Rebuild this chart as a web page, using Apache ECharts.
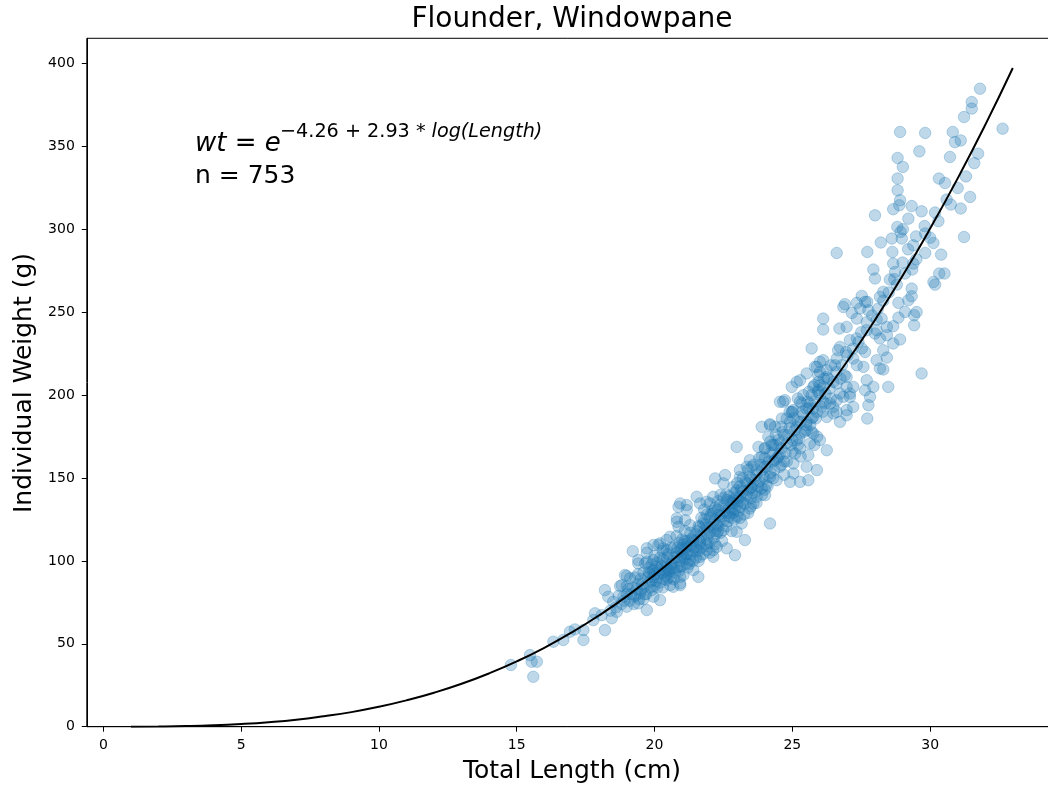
<!DOCTYPE html>
<html>
<head>
<meta charset="utf-8">
<title>Flounder, Windowpane</title>
<script src="https://cdn.jsdelivr.net/npm/echarts@6/dist/echarts.min.js"></script>
<style>
html, body { margin: 0; padding: 0; background: #fff; }
#chart { width: 1048px; height: 790px; }
</style>
</head>
<body>
<div id="chart"></div>
<script>
// fitted curve at whole centimetres
const curveLength = [1, 2, 3, 4, 5, 6, 7, 8, 9, 10, 11, 12, 13, 14, 15, 16, 17, 18, 19, 20, 21, 22, 23, 24, 25, 26, 27, 28, 29, 30, 31, 32, 33];
const curveWeight = [0.01, 0.11, 0.35, 0.82, 1.6, 2.7, 4.2, 6.3, 8.8, 12.0, 15.9, 20.5, 25.9, 32.2, 39.4, 47.6, 56.9, 67.3, 78.8, 91.6, 105.6, 121.1, 137.9, 156.2, 176.0, 197.5, 220.6, 245.4, 272.0, 300.5, 330.8, 363.1, 397.4];

// observed fish [length cm, weight g]
const smallFish = [
  [14.79, 37.2], [15.48, 43.2], [15.54, 39.2], [15.73, 39.2], [15.60, 30.1], [16.33, 51.3], [16.69, 52.3],
  [16.93, 57.3], [17.11, 58.7], [17.42, 58.3], [17.42, 52.3], [17.78, 64.3], [17.84, 68.4], [18.08, 67.3],
  [18.20, 58.3], [18.45, 65.4], [18.63, 69.3], [18.50, 75.4], [18.32, 78.4], [18.20, 82.4], [18.75, 84.8],
  [18.81, 85.4], [18.87, 78.4], [18.99, 72.4], [18.99, 84.8], [18.99, 90.9], [18.93, 91.5], [18.6, 72],
  [18.4, 70], [18.9, 76], [18.7, 79], [18.8, 74]
];
const midFish = [
  [19.21, 105.9], [19.72, 104.9], [19.41, 98.5], [19.72, 99.5], [19.11, 89.5], [19.72, 70.4], [19.23, 78.4],
  [19.41, 74.4], [19.47, 80.4], [19.96, 78.4], [20.20, 76.4], [19.90, 82.4], [20.68, 84.4], [20.93, 90.4],
  [20.44, 88.5], [20.20, 94.5], [19.96, 90.4], [20.44, 96.5], [20.93, 96.5], [21.17, 98.5], [21.41, 94.5],
  [21.59, 90.4], [20.93, 85.4], [20.93, 86.5], [20.56, 85.4], [21.05, 91.5], [20.08, 96.5], [19.84, 92.5],
  [20.62, 95.5], [20.50, 92.5], [19.96, 100.5], [19.41, 100.5], [19.66, 98.5], [21.29, 100.5], [20.81, 102.5],
  [21.05, 102.5], [20.93, 106.5], [21.65, 102.5], [22.13, 102.5], [22.92, 103.5], [22.13, 106.5], [21.89, 110.6],
  [21.53, 106.5], [21.17, 108.5], [20.44, 106.5], [20.20, 110.6], [19.96, 109.6], [19.72, 107.6], [20.14, 109.6],
  [20.32, 107.6], [20.44, 112.6], [20.56, 114.6], [21.89, 106.5], [22.26, 108.5], [22.62, 107.6], [21.65, 110.6],
  [21.17, 110.6], [21.41, 114.6], [20.81, 123.6], [20.87, 120.6], [21.29, 121.6], [21.65, 120.6], [20.81, 125.7],
  [21.11, 124.6], [21.77, 122.6], [22.01, 120.6], [22.26, 116.6], [22.50, 118.6], [22.38, 124.6], [22.13, 128.7],
  [22.98, 117.6], [23.28, 112.6], [23.16, 122.6], [22.74, 128.7], [23.10, 132.6], [22.86, 136.7], [20.87, 132.6],
  [21.17, 130.7], [21.17, 133.7], [20.93, 134.7], [21.65, 134.7], [21.89, 135.7], [21.53, 138.7], [22.01, 134.7],
  [22.13, 138.7], [22.38, 133.7], [22.62, 136.7], [22.86, 134.7], [23.04, 137.7], [22.98, 142.7], [22.86, 144.7],
  [22.50, 146.8], [22.20, 149.8], [22.56, 151.8], [23.10, 150.7], [23.10, 154.8], [23.35, 156.8], [23.35, 146.8],
  [23.53, 144.7], [23.28, 134.7], [23.46, 131.7], [23.59, 134.7], [23.71, 138.7], [24.01, 139.7], [23.89, 143.7],
  [24.19, 122.6], [22.98, 168.8],
  [19.0, 80], [19.1, 76], [19.2, 84], [19.3, 79], [19.4, 86], [19.5, 82], [19.5, 89], [19.6, 84], [19.7, 80],
  [19.8, 87], [19.8, 93], [19.9, 88], [20.0, 85], [20.0, 95], [20.1, 90], [20.1, 99], [20.2, 87], [20.3, 93],
  [20.3, 101], [20.4, 91], [20.4, 99], [20.5, 95], [20.5, 104], [20.6, 98], [20.6, 90], [20.7, 102], [20.7, 108],
  [20.8, 96], [20.8, 105], [20.9, 100], [20.9, 111], [21.0, 104], [21.0, 97], [21.0, 113], [21.1, 107], [21.1, 101],
  [21.2, 112], [21.2, 104], [21.3, 109], [21.3, 117], [21.4, 106], [21.4, 112], [21.5, 116], [21.5, 109], [21.6, 113],
  [21.6, 121], [21.7, 115], [21.7, 108], [21.8, 118], [21.8, 125], [21.9, 113], [21.9, 120], [22.0, 117], [22.0, 126],
  [22.0, 111], [22.1, 122], [22.1, 130], [22.2, 118], [22.2, 125], [22.3, 121], [22.3, 131], [22.4, 127], [22.4, 117],
  [22.5, 124], [22.5, 133], [22.6, 129], [22.6, 121], [22.7, 132], [22.7, 139], [22.8, 126], [22.8, 135], [22.9, 131],
  [22.9, 141], [23.0, 134], [23.0, 127], [23.1, 139], [23.1, 145], [23.2, 135], [23.2, 142], [23.3, 139], [23.3, 148],
  [23.4, 143], [23.5, 138], [23.5, 150], [23.6, 146], [23.7, 142], [23.7, 152], [23.8, 148], [23.9, 155]
];
const coreFish = [
  [19.05, 83], [19.15, 80], [19.25, 74], [19.35, 83], [19.45, 77], [19.55, 86], [19.65, 80], [19.75, 90], [19.85, 84],
  [19.95, 94], [20.05, 88], [20.15, 92], [20.25, 97], [20.35, 89], [20.45, 102], [20.55, 94], [20.65, 100], [20.75, 93],
  [20.85, 108], [20.95, 102], [21.05, 110], [21.15, 104], [21.25, 98], [21.35, 113], [21.45, 108], [21.55, 118],
  [21.65, 112], [21.75, 104], [21.85, 122], [21.95, 116], [22.05, 128], [22.15, 114], [22.25, 122], [22.35, 128],
  [22.45, 112], [22.55, 130], [22.65, 124], [22.75, 136], [22.85, 129], [22.95, 138], [23.05, 130], [23.15, 143],
  [23.25, 128], [23.35, 140], [23.45, 151], [23.55, 141], [23.65, 149], [23.75, 145], [23.85, 158], [23.95, 151],
  [24.05, 146], [24.15, 160], [24.25, 170], [24.35, 155], [24.45, 162], [24.55, 171], [24.65, 178], [24.75, 165],
  [24.85, 176], [24.95, 170], [25.05, 186], [25.15, 181], [25.25, 174], [25.35, 190], [25.45, 178], [25.55, 196],
  [25.65, 182], [25.75, 192], [25.85, 186], [25.95, 208], [26.05, 193], [26.15, 210], [26.35, 204], [26.55, 218],
  [26.75, 210], [26.95, 226],
  [19.3, 90], [19.6, 93], [19.9, 98], [20.2, 102], [20.5, 90], [20.8, 115], [21.1, 118], [21.4, 100], [21.7, 126],
  [22.0, 105], [22.3, 136], [22.6, 140], [22.9, 125], [23.2, 150], [23.5, 133], [23.8, 162], [24.1, 145], [24.4, 176],
  [24.7, 152], [25.0, 190], [25.3, 163], [25.6, 202], [25.9, 175],
  [20.0, 103], [20.6, 108], [21.2, 96], [21.8, 131], [22.4, 140], [23.0, 147], [23.6, 158], [24.2, 172], [24.8, 186],
  [25.4, 200], [26.0, 214],
  [19.4, 92], [20.3, 84], [20.9, 94], [21.6, 100], [22.2, 132], [22.8, 118], [23.4, 129], [24.0, 143], [24.6, 181],
  [25.2, 198], [25.8, 170],
  [19.8, 96], [20.1, 84], [20.4, 94], [20.7, 96], [21.0, 108], [21.3, 104], [21.6, 106], [21.9, 128], [22.2, 110],
  [22.5, 138], [22.8, 131], [23.1, 136], [23.4, 155], [23.7, 135], [24.0, 168], [24.3, 150], [24.6, 158], [24.9, 190],
  [25.2, 170], [25.5, 192], [25.8, 206], [26.1, 190], [26.4, 218], [19.6, 77], [20.0, 92], [20.3, 106], [20.7, 89],
  [21.1, 112], [21.5, 102], [21.9, 109], [22.3, 118], [22.7, 127], [23.1, 126], [23.5, 144], [23.9, 140], [24.3, 165],
  [24.8, 160], [25.3, 184], [25.7, 178], [26.2, 195]
];
const largeFish = [
  [23.71, 154.8], [23.53, 156.8], [23.46, 160.8], [23.89, 162.8], [24.01, 156.8], [24.37, 160.8], [24.55, 164.8],
  [24.19, 150.7], [24.43, 148.7], [24.55, 156.8], [24.92, 147.7], [25.28, 147.7], [25.04, 152.8], [25.58, 148.7],
  [25.89, 154.8], [25.52, 156.8], [25.04, 158.8], [25.10, 164.8], [25.58, 163.8], [25.28, 167.9], [25.64, 170.9],
  [26.25, 166.8], [26.00, 172.9], [25.16, 172.9], [25.52, 178.9], [25.76, 176.9], [23.77, 168.8], [24.01, 167.9],
  [24.31, 169.9], [24.13, 174.9], [23.89, 180.9], [24.19, 181.9], [24.19, 182.5], [24.37, 180.9], [24.62, 185.9],
  [24.92, 183.9], [25.52, 183.9], [25.76, 186.9], [24.98, 189.9], [25.04, 191.0], [24.55, 196.0], [24.73, 197.0],
  [24.67, 196.0], [25.28, 196.0], [25.34, 195.0], [25.64, 195.0], [25.70, 200.0], [25.76, 205.0], [25.94, 202.0],
  [25.94, 203.0], [26.12, 196.0], [24.98, 205.0], [25.16, 208.0], [25.28, 209.0], [25.52, 213.1], [25.94, 212.1],
  [25.82, 217.1], [25.89, 217.1], [26.25, 215.1], [26.00, 220.1], [26.12, 221.1], [25.70, 228.2], [26.61, 222.1],
  [26.66, 227.1], [26.73, 229.1], [26.37, 195.0], [26.49, 192.9], [26.49, 189.0], [26.61, 189.9], [26.25, 186.9],
  [26.73, 183.9], [26.61, 197.0], [26.73, 201.0], [26.85, 199.0], [26.97, 205.0], [26.61, 207.1], [26.97, 211.0],
  [26.25, 211.0], [26.49, 208.0], [26.12, 205.0], [26.97, 191.0], [26.97, 187.9], [27.21, 192.9], [27.09, 199.0],
  [27.09, 201.0], [27.21, 205.0],
  [24.0, 150], [24.0, 162], [24.1, 157], [24.2, 153], [24.2, 165], [24.3, 160], [24.4, 170], [24.5, 163], [24.5, 173],
  [24.6, 168], [24.7, 160], [24.7, 176], [24.8, 171], [24.9, 180], [25.0, 173], [25.0, 166], [25.1, 179], [25.2, 184],
  [25.3, 177], [25.4, 188], [25.5, 182], [25.6, 192], [25.7, 186], [25.8, 196], [25.9, 190], [26.0, 200], [26.0, 206],
  [26.2, 201], [26.3, 210], [26.4, 198], [26.6, 214], [26.8, 218], [26.9, 212], [27.0, 224]
];
const biggestFish = [
  [27.72, 185.9], [27.76, 194.0], [27.82, 199.0], [27.64, 203.0], [27.70, 209.0], [27.94, 205.0], [28.48, 205.0],
  [27.21, 222.1], [27.34, 218.1], [27.58, 217.1], [28.06, 221.1], [28.18, 216.1], [28.30, 215.5], [28.43, 222.7],
  [28.30, 227.1], [27.52, 228.2], [27.64, 226.1], [29.69, 213.1], [27.34, 234.2], [27.09, 233.2], [28.18, 234.2],
  [28.43, 236.2], [28.00, 237.2], [28.06, 239.2], [27.70, 239.2], [28.43, 241.2], [28.66, 241.6], [28.66, 231.2],
  [28.91, 233.6], [26.12, 239.6], [26.71, 240.2], [26.97, 241.2], [26.12, 246.2], [27.16, 249.6], [27.34, 246.2],
  [28.06, 245.6], [28.24, 246.2], [28.85, 246.8], [29.42, 242.2], [29.42, 248.2], [29.09, 250.2], [29.51, 250.2],
  [28.85, 255.7], [27.46, 252.3], [27.76, 251.2], [26.91, 254.9], [26.85, 253.2], [27.34, 255.7], [27.64, 256.3],
  [27.72, 256.3], [27.52, 259.9], [28.18, 259.3], [28.30, 262.3], [28.79, 266.7], [29.21, 257.3], [29.33, 259.7],
  [29.33, 264.3], [28.54, 269.8], [28.00, 270.4], [27.94, 275.8], [28.73, 274.3], [28.66, 279.4], [29.09, 273.4],
  [29.35, 275.8], [29.39, 279.4], [30.12, 268.3], [30.18, 266.7], [30.33, 273.4], [30.52, 273.4], [26.61, 285.8],
  [27.72, 286.4], [28.63, 286.4], [29.39, 290.4], [29.82, 285.8], [30.40, 284.8], [28.21, 292.1], [28.61, 294.5],
  [28.97, 294.5], [28.93, 298.5], [29.49, 295.8], [29.82, 297.5], [30.12, 291.8], [31.23, 295.4], [28.81, 301.5],
  [29.01, 300.1], [29.21, 306.5], [28.00, 308.5], [28.66, 312.2], [29.33, 314.1], [29.69, 310.9], [30.18, 310.2],
  [31.11, 312.6], [30.75, 315.0], [28.88, 314.6], [28.91, 317.6], [31.45, 319.6], [28.82, 323.6], [30.54, 328.0],
  [28.82, 330.7], [30.32, 330.7], [29.01, 337.7], [28.82, 343.1], [30.72, 343.7], [31.74, 345.7], [29.61, 347.1],
  [30.90, 352.7], [31.11, 353.7], [28.91, 358.8], [29.82, 358.2], [30.82, 358.8], [32.63, 360.8], [31.23, 367.8],
  [31.51, 372.9], [31.51, 376.8], [31.81, 384.9],
  [27.2, 228], [27.4, 232], [27.5, 238], [27.7, 244], [27.9, 248], [28.1, 252], [28.3, 257], [28.5, 262], [28.7, 270],
  [29.0, 280], [29.2, 288], [29.5, 282], [29.8, 302], [30.0, 295], [30.3, 305], [30.6, 318], [31.0, 325], [31.3, 332],
  [31.6, 340]
];

const xTicks = [0, 5, 10, 15, 20, 25, 30];
const yTicks = [0, 50, 100, 150, 200, 250, 300, 350, 400];

const font = 'DejaVu Sans';
const dotColor = 'rgba(31,119,180,0.36)';

const chart = echarts.init(document.getElementById('chart'));

const allFish = smallFish.concat(midFish, coreFish, largeFish, biggestFish);
const curve = curveLength.map((len, i) => [len, curveWeight[i]]);

chart.setOption({
  animation: false,
  textStyle: { fontFamily: font },
  grid: {
    left: 86.8, right: -8.9, top: 38.3, bottom: 63.3,
    show: true, borderColor: '#000', borderWidth: 1,
    containLabel: false, outerBoundsMode: 'none'
  },
  xAxis: {
    type: 'value', min: -0.6, max: 34.6,
    splitLine: { show: false },
    axisLine: { show: true, onZero: false, lineStyle: { color: '#000', width: 1 } },
    axisTick: { show: true, length: 5, lineStyle: { color: '#000' }, customValues: xTicks },
    axisLabel: { customValues: xTicks, color: '#000', fontSize: 14, margin: 12, fontFamily: font }
  },
  yAxis: {
    type: 'value', min: 0, max: 415.3,
    splitLine: { show: false },
    axisLine: { show: true, onZero: false, lineStyle: { color: '#000', width: 1 } },
    axisTick: { show: true, length: 5, lineStyle: { color: '#000' }, customValues: yTicks },
    axisLabel: { customValues: yTicks, color: '#000', fontSize: 14, margin: 12, fontFamily: font }
  },
  series: [
    {
      type: 'scatter',
      data: allFish,
      symbol: 'circle',
      symbolSize: 11.5,
      itemStyle: { color: dotColor, borderColor: dotColor, borderWidth: 1 },
      emphasis: { disabled: true },
      z: 2
    },
    {
      type: 'line',
      data: curve,
      showSymbol: false,
      smooth: true,
      lineStyle: { color: '#000', width: 2 },
      emphasis: { disabled: true },
      z: 3
    }
  ],
  graphic: [
    {
      type: 'text', x: 572, y: 20,
      style: { text: 'Flounder, Windowpane', fontSize: 28, fontFamily: font, fill: '#000', align: 'center', verticalAlign: 'middle' }
    },
    {
      type: 'text', x: 572, y: 771,
      style: { text: 'Total Length (cm)', fontSize: 25, fontFamily: font, fill: '#000', align: 'center', verticalAlign: 'middle' }
    },
    {
      type: 'text', x: 24, y: 383, rotation: Math.PI / 2,
      style: { text: 'Individual Weight (g)', fontSize: 25, fontFamily: font, fill: '#000', align: 'center', verticalAlign: 'middle' }
    },
    {
      type: 'text', x: 195, y: 144,
      style: {
        text: '{i|wt} = {i|e}', fontSize: 26, fontFamily: font, fill: '#000', verticalAlign: 'middle',
        rich: { i: { fontStyle: 'italic', fontSize: 26, fontFamily: font } }
      }
    },
    {
      type: 'text', x: 280, y: 132,
      style: {
        text: '\u22124.26 + 2.93 * {i|log(Length)}', fontSize: 19.2, fontFamily: font, fill: '#000', verticalAlign: 'middle',
        rich: { i: { fontStyle: 'italic', fontSize: 19.2, fontFamily: font } }
      }
    },
    {
      type: 'text', x: 195, y: 176,
      style: { text: 'n = 753', fontSize: 25, fontFamily: font, fill: '#000', verticalAlign: 'middle' }
    }
  ]
});

window.addEventListener('resize', () => chart.resize());
</script>
</body>
</html>
